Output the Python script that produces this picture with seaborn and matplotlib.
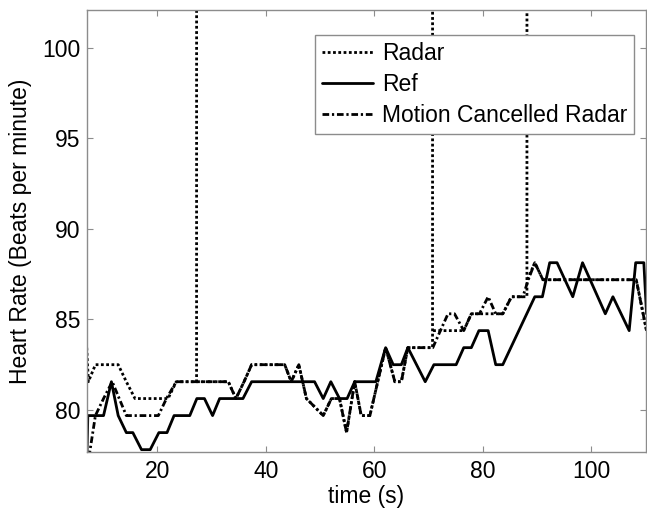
import matplotlib
matplotlib.use("Agg")
import matplotlib.pyplot as plt
import seaborn as sns
import numpy as np

# ---- data ----
t_ref = [7.0, 7.2, 10.1, 11.55, 12.8, 14.3, 15.5, 17.1, 18.7, 20.3, 21.8, 23.1, 26.0, 27.3,
         28.7, 30.2, 31.5, 35.8, 37.4, 49.0, 50.6, 52.0, 53.6, 55.0, 56.4, 60.3, 62.1, 63.5,
         65.0, 66.2, 69.4, 71.0, 75.1, 76.5, 77.9, 79.3, 81.0, 82.4, 83.7, 89.6, 91.0, 92.35,
         93.7, 96.6, 98.4, 102.6, 104.0, 107.0, 108.2, 109.7, 110.2]
hr_ref = [76.9, 79.69, 79.69, 81.56, 79.69, 78.75, 78.75, 77.81, 77.81, 78.75, 78.75, 79.69,
          79.69, 80.63, 80.63, 79.69, 80.63, 80.63, 81.56, 81.56, 80.63, 81.56, 80.63, 80.63,
          81.56, 81.56, 83.44, 82.5, 82.5, 83.44, 81.56, 82.5, 82.5, 83.44, 83.44, 84.38,
          84.38, 82.5, 82.5, 86.25, 86.25, 88.13, 88.13, 86.25, 88.13, 85.31, 86.25, 84.38,
          88.13, 88.13, 85.31]

t_mc = [7.0, 8.6, 10.1, 11.7, 14.3, 20.2, 21.7, 23.5, 33.1, 34.5, 36.0, 37.4, 43.5, 44.7,
        46.1, 47.5, 50.6, 52.1, 53.6, 54.9, 56.4, 57.6, 59.2, 62.1, 63.8, 65.0, 66.2, 70.8,
        72.2, 73.6, 74.8, 76.5, 77.9, 79.4, 81.0, 82.4, 83.7, 85.3, 87.4, 88.4, 89.6, 91.1,
        108.3, 110.2]
hr_mc = [76.6, 79.69, 80.63, 81.56, 79.69, 79.69, 80.63, 81.56, 81.56, 80.63, 81.56, 82.5,
         82.5, 81.56, 82.5, 80.63, 79.69, 80.63, 80.63, 78.75, 81.56, 79.69, 79.69, 83.44,
         81.56, 81.56, 83.44, 83.44, 84.38, 85.31, 85.31, 84.38, 85.31, 85.31, 86.25, 85.31,
         85.31, 86.25, 86.25, 87.19, 88.13, 87.19, 87.19, 84.38]

# radar estimate, with its three outlier spikes (off the top of the axes)
t_rad = [7.0, 7.3, 8.6, 12.8, 14.3, 15.9, 22.0, 23.5, 27.25, 27.3,
         27.35, 33.1, 34.5, 36.0, 37.4, 43.5, 44.7, 46.1, 47.5, 50.6, 52.1, 53.6, 54.9,
         56.4, 57.6, 59.2, 62.1, 63.8, 65.0, 66.2, 70.75, 70.8,
         70.85, 76.5, 77.9, 83.7, 85.3, 88.15, 88.2,
         88.25, 89.6, 91.1, 108.3, 110.2]
hr_rad = [83.44, 81.56, 82.5, 82.5, 81.56, 80.63, 80.63, 81.56, 81.56, 300.0,
          81.56, 81.56, 80.63, 81.56, 82.5, 82.5, 81.56, 82.5, 80.63, 79.69, 80.63, 80.63,
          78.75, 81.56, 79.69, 79.69, 83.44, 81.56, 81.56, 83.44, 83.44, 300.0,
          84.38, 84.38, 85.31, 85.31, 86.25, 86.25, 300.0,
          87.19, 88.13, 87.19, 87.19, 84.38]
# estimate segments (a new segment begins after each spike)
seg_rad = [0] * 10 + [1] * 22 + [2] * 7 + [3] * 5

series_names = ["Radar", "Ref", "Motion Cancelled Radar"]
x_ticks = [20, 40, 60, 80, 100]
y_ticks = [80, 85, 90, 95, 100]

# ---- style ----
sns.set_style("ticks")
plt.rcParams["font.family"] = ["Liberation Sans", "DejaVu Sans"]
plt.rcParams["text.color"] = "black"
plt.rcParams["axes.labelcolor"] = "black"

FS = 16.5
fig = plt.figure(figsize=(6.47, 5.12), dpi=100)
ax = fig.add_axes([87 / 647, 1 - 452 / 512, (646 - 87) / 647, (452 - 10) / 512])

lw = 2.0
dot_style = (0, (1.0, 0.9))
dashdot_style = (0, (2.4, 1.0, 0.8, 1.0))

n0 = len(ax.get_lines())
sns.lineplot(x=t_rad, y=hr_rad, units=seg_rad, ax=ax, color="black", linewidth=lw,
             linestyle=dot_style, estimator=None, sort=False)
h_rad = ax.get_lines()[n0]
n1 = len(ax.get_lines())
sns.lineplot(x=t_ref, y=hr_ref, ax=ax, color="black", linewidth=lw,
             linestyle="-", estimator=None, sort=False)
h_ref = ax.get_lines()[n1]
n2 = len(ax.get_lines())
sns.lineplot(x=t_mc, y=hr_mc, ax=ax, color="black", linewidth=lw,
             linestyle=dashdot_style, estimator=None, sort=False)
h_mc = ax.get_lines()[n2]

ax.set_xlim(7.05, 110.1)
ax.set_ylim(77.68, 102.08)
ax.set_xticks(x_ticks)
ax.set_yticks(y_ticks)
ax.set_xticklabels([str(v) for v in x_ticks])
ax.set_yticklabels([str(v) for v in y_ticks])

spine_c = "#8c8c8c"
for s in ax.spines.values():
    s.set_visible(True)
    s.set_color(spine_c)
    s.set_linewidth(1.0)
ax.tick_params(axis="both", direction="in", length=4, width=0.8, color=spine_c,
               top=True, right=True, labelsize=FS, labelcolor="black")
ax.tick_params(axis="x", pad=6)
ax.tick_params(axis="y", pad=5)

ax.set_xlabel("time (s)", fontsize=FS, labelpad=1.5, color="black")
ax.set_ylabel("Heart Rate (Beats per minute)", fontsize=FS, labelpad=7, color="black")

leg = ax.legend(handles=[h_rad, h_ref, h_mc], labels=series_names, loc="upper right",
                bbox_to_anchor=(0.9785, 0.9434), borderaxespad=0, fontsize=FS,
                frameon=True, fancybox=False, framealpha=1, edgecolor=spine_c,
                handlelength=2.2, handletextpad=0.4, labelspacing=0.36,
                borderpad=0.3)
leg.get_frame().set_linewidth(1.0)
for txt in leg.get_texts():
    txt.set_color("black")

fig.savefig("out.png", dpi=100)
